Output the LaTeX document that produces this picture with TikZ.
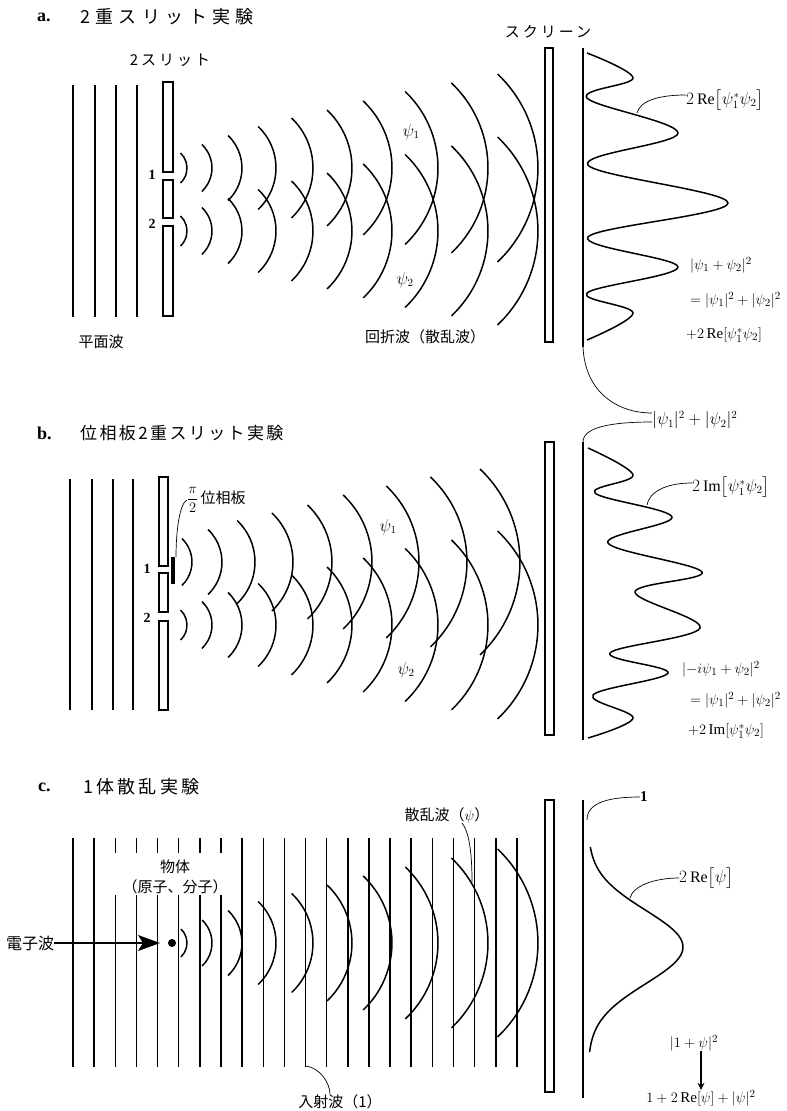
\documentclass[tikz,border=0pt]{standalone}
\usepackage{amsmath}
\usepackage{fontspec}
\setmainfont{Liberation Serif}
\newfontfamily\jp{Noto Sans CJK JP}
\usetikzlibrary{arrows.meta,positioning}

\newcommand{\wavearc}[3]{%
  \draw[wave] (#1-0.43*#3,#2-#3) arc[start angle=-46.5,end angle=46.5,radius=1.378*#3];}

\begin{document}
\begin{tikzpicture}[
    x=1pt, y=-1pt,
    plane/.style={line width=1.5pt},
    wave/.style={line width=1.5pt},
    slitbar/.style={line width=1.1pt},
    detector/.style={line width=2.6pt},
    fringe/.style={line width=1.5pt},
    lead/.style={line width=0.7pt},
    ttl/.style={inner sep=0pt, font=\bfseries\fontsize{18}{20}\selectfont},
    jttl/.style={inner sep=0pt, font=\jp\fontsize{18}{20}\selectfont},
    jtext/.style={inner sep=0pt, font=\jp\fontsize{15}{20}\selectfont},
    eq/.style={inner sep=0pt, font=\fontsize{16}{18}\selectfont},
    eqs/.style={inner sep=0pt, font=\fontsize{15}{17}\selectfont},
    num/.style={inner sep=0pt, font=\bfseries\fontsize{14}{16}\selectfont}
  ]
  \useasboundingbox (0,0) rectangle (787,1111);

  % a. double slit
  \node[ttl, anchor=west] (ttlA) at (37,17) {a.};
  \node[jttl, anchor=west] (ttlAj) at (80,17) {\addfontfeature{LetterSpace=30}2重スリット実験};
  \node[jtext] (slitA) at (170,60) {\addfontfeature{LetterSpace=20}2スリット};
  \node[jtext] (screenA) at (548,32) {\addfontfeature{LetterSpace=20}スクリーン};
  \foreach \x in {73,95,116,137} \draw[plane] (\x,85) -- (\x,317);
  \foreach \ya/\yb in {82/172,180/218,226/316} \draw[slitbar] (163,\ya) rectangle (173,\yb);
  \node[num] (oneA) at (152,175) {1};
  \node[num] (twoA) at (152,224) {2};
  \foreach \xa/\hh in {187/15,212/23.5,242/32.5,276/41.5,313/50,352/58,392/67,438/76.5,488/85,538/94}
    {\wavearc{\xa}{168}{\hh}\wavearc{\xa}{231}{\hh}}
  \node[eq] (psiA1) at (411,132) {$\psi_1$};
  \node[eq] (psiA2) at (405,280) {$\psi_2$};
  \node[jtext] (planeA) at (101,342) {平面波};
  \node[jtext] (diffA) at (425,337) {回折波（散乱波）};
  \draw[slitbar] (545,48) rectangle (553,342);
  \draw[detector] (583,48) -- (583,347);
  \coordinate (aDetBot) at (583,347);
  \draw[fringe] plot[smooth, tension=0.6] coordinates {(587,53) (633,78) (587,98) (678,133) (588,165)
    (728,203) (588,237) (678,267) (587,293) (633,313) (587,340)};
  \node[eq, anchor=west] (reA) at (686,100) {$2\,\mathrm{Re}\bigl[\psi_1^{*}\psi_2\bigr]$};
  \coordinate (reAfoot) at (637,113);
  \draw[lead] ([yshift=5pt]reA.west) .. controls +(-28,0) and +(3,-12) .. (reAfoot);
  \node[eqs, anchor=west] (eqA1) at (690,265) {$|\psi_1+\psi_2|^2$};
  \node[eqs, anchor=west] (eqA2) at (690,300) {$=|\psi_1|^2+|\psi_2|^2$};
  \node[eqs, anchor=west] (eqA3) at (686,335) {$+2\,\mathrm{Re}[\psi_1^{*}\psi_2]$};

  % common baseline
  \node[eq, anchor=west] (sumB) at (652,420) {$|\psi_1|^2+|\psi_2|^2$};
  \coordinate (bDetTop) at (583,442);
  \draw[lead] (aDetBot) .. controls +(2,45) and +(-35,0) .. ([yshift=7pt]sumB.west);
  \draw[lead] ([yshift=-2pt]sumB.west) .. controls +(-40,0) and +(0,-15) .. (bDetTop);

  % b. phase plate double slit
  \node[ttl, anchor=west] (ttlB) at (37,433) {b.};
  \node[jttl, anchor=west, font=\jp\fontsize{17}{20}\selectfont] (ttlBj) at (80,433)
    {\addfontfeature{LetterSpace=14}位相板2重スリット実験};
  \foreach \x in {70,92,113,133} \draw[plane] (\x,479) -- (\x,710);
  \foreach \ya/\yb in {477/566,573/612,621/710} \draw[slitbar] (159,\ya) rectangle (168,\yb);
  \node[num] (oneB) at (147,569) {1};
  \node[num] (twoB) at (147,618) {2};
  \fill (171,557) rectangle (175,584);
  \coordinate (plateTop) at (176,557);
  \node[jtext, anchor=west] (piLbl) at (187,500) {$\dfrac{\pi}{2}$\,位相板};
  \draw[lead] (piLbl.west) .. controls +(-7,3) and +(0,-28) .. (plateTop);
  \foreach \xa/\hh in {192/23.5,222/32.5,255/41.5,293/49,332/57,372/67,419/76,467/85,520/93}
    {\wavearc{\xa}{562}{\hh}}
  \foreach \xa/\hh in {187/15,212/23.5,242/32.5,276/41.5,313/50,352/58,392/67,438/76.5,488/85,538/94}
    {\wavearc{\xa}{625}{\hh}}
  \node[eq] (psiB1) at (388,527) {$\psi_1$};
  \node[eq] (psiB2) at (406,670) {$\psi_2$};
  \draw[slitbar] (545,442) rectangle (554,735);
  \draw[detector] (583,442) -- (583,740);
  \draw[fringe] plot[smooth, tension=0.6] coordinates {(588,448) (633,475) (595,493) (672,517) (608,543)
    (702,572) (635,592) (700,628) (610,653) (668,673) (593,695) (633,718) (588,738)};
  \node[eq, anchor=west] (imB) at (692,487) {$2\,\mathrm{Im}\bigl[\psi_1^{*}\psi_2\bigr]$};
  \coordinate (imBfoot) at (647,505);
  \draw[lead] ([yshift=4pt]imB.west) .. controls +(-28,0) and +(2,-12) .. (imBfoot);
  \node[eqs, anchor=west] (eqB1) at (682,669) {$|{-i}\psi_1+\psi_2|^2$};
  \node[eqs, anchor=west] (eqB2) at (690,700) {$=|\psi_1|^2+|\psi_2|^2$};
  \node[eqs, anchor=west] (eqB3) at (688,731) {$+2\,\mathrm{Im}[\psi_1^{*}\psi_2]$};

  % c. single scattering
  \node[ttl, anchor=west] (ttlC) at (38,787) {c.};
  \node[jttl, anchor=west] (ttlCj) at (83,787) {\addfontfeature{LetterSpace=18}1体散乱実験};
  \foreach \k in {0,1,8,9,...,21} \draw[plane] ({73+21.14*\k},838) -- ({73+21.14*\k},1067);
  \foreach \k in {2,...,7} \draw[plane] ({73+21.14*\k},838) -- ({73+21.14*\k},853)
    ({73+21.14*\k},895) -- ({73+21.14*\k},1067);
  \node[jtext, align=center] (objC) at (175,877) {物体\\（原子、分子）};
  \node[jtext, anchor=west, font=\jp\fontsize{16}{18}\selectfont] (elec) at (6,943) {電子波};
  \node[circle, fill, inner sep=0pt, minimum size=8pt] (obj) at (172,943) {};
  \coordinate (arrTip) at (160,943);
  \draw[line width=1.3pt, -{Stealth[length=22pt,width=16pt,inset=5pt]}] (elec.east) -- (arrTip);
  \foreach \xa/\hh in {187/14,212/23,242/32.5,276/41.5,313/49.5,352/58,392/67,438/76,488/85,538/94}
    {\wavearc{\xa}{943}{\hh}}
  \node[jtext] (scatC) at (447,815) {散乱波（$\psi$）};
  \coordinate (scatFoot) at (472,882);
  \draw[lead] ([xshift=15pt]scatC.south) .. controls +(8,10) and +(0,-25) .. (scatFoot);
  \node[jtext] (incC) at (340,1102) {入射波（1）};
  \coordinate (incFoot) at (306,1066);
  \draw[lead] (incFoot) .. controls +(14,2) and +(0,-12) .. ([xshift=-10pt]incC.north);
  \draw[slitbar] (545,800) rectangle (554,1092);
  \draw[detector] (583,800) -- (583,1098);
  \draw[fringe] plot[variable=\t, domain=847:1052, samples=90, smooth]
    ({588+95*exp(-(((\t-947)/52)^2))}, \t);
  \node[eq, anchor=west, font=\bfseries\fontsize{15}{17}\selectfont] (oneC) at (640,797) {1};
  \coordinate (oneFoot) at (587,820);
  \draw[lead] (oneC.west) .. controls +(-30,0) and +(0,-18) .. (oneFoot);
  \node[eq, anchor=west] (reC) at (679,878) {$2\,\mathrm{Re}\bigl[\psi\bigr]$};
  \coordinate (reCfoot) at (630,898);
  \draw[lead] (reC.west) .. controls +(-25,0) and +(3,-12) .. (reCfoot);
  \node[eqs] (absC) at (694,1043) {$|1+\psi|^2$};
  \node[eqs] (resC) at (701,1098) {$1+2\,\mathrm{Re}[\psi]+|\psi|^2$};
  \draw[line width=1.4pt, -{Stealth[length=7pt,width=7pt]}] (absC.south -| resC) -- (resC.north);
\end{tikzpicture}
\end{document}
